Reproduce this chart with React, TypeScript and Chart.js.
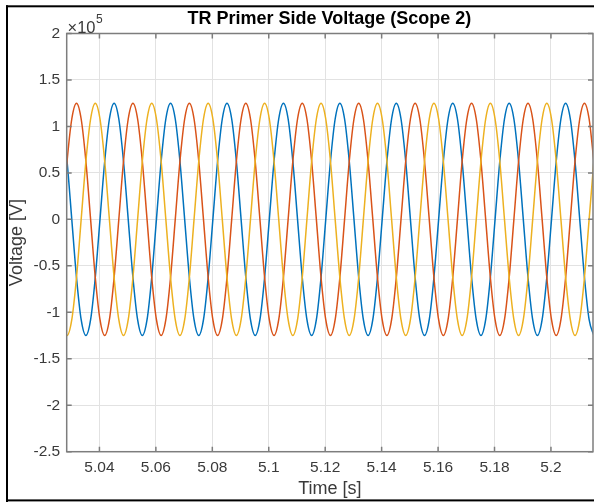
import React, { useEffect, useRef } from "react";
import { Chart, registerables } from "chart.js";

Chart.register(...registerables);

// ---- data (time in s, voltages in V) ----
const timeS = [
  5.0252, 5.02687, 5.02853, 5.0302, 5.03187, 5.03353, 5.0352, 5.03687, 5.03853,
  5.0402, 5.04187, 5.04353, 5.0452, 5.04687, 5.04853, 5.0502, 5.05187, 5.05353,
  5.0552, 5.05687, 5.05853, 5.0602, 5.06187, 5.06353, 5.0652, 5.06687, 5.06853,
  5.0702, 5.07187, 5.07353, 5.0752, 5.07687, 5.07853, 5.0802, 5.08187, 5.08353,
  5.0852, 5.08687, 5.08853, 5.0902, 5.09187, 5.09353, 5.0952, 5.09687, 5.09853,
  5.1002, 5.10187, 5.10353, 5.1052, 5.10687, 5.10853, 5.1102, 5.11187, 5.11353,
  5.1152, 5.11687, 5.11853, 5.1202, 5.12187, 5.12353, 5.1252, 5.12687, 5.12853,
  5.1302, 5.13187, 5.13353, 5.1352, 5.13687, 5.13853, 5.1402, 5.14187, 5.14353,
  5.1452, 5.14687, 5.14853, 5.1502, 5.15187, 5.15353, 5.1552, 5.15687, 5.15853,
  5.1602, 5.16187, 5.16353, 5.1652, 5.16687, 5.16853, 5.1702, 5.17187, 5.17353,
  5.1752, 5.17687, 5.17853, 5.1802, 5.18187, 5.18353, 5.1852, 5.18687, 5.18853,
  5.1902, 5.19187, 5.19353, 5.1952, 5.19687, 5.19853, 5.2002, 5.20187, 5.20353,
  5.2052, 5.20687, 5.20853, 5.2102, 5.21187, 5.21353, 5.2152,
];

const phaseBlue = [
  125000, 108000, 62500, 0, -62500, -108000, -125000, -108000, -62500, 0, 62500, 108000,
  125000, 108000, 62500, 0, -62500, -108000, -125000, -108000, -62500, 0, 62500, 108000,
  125000, 108000, 62500, 0, -62500, -108000, -125000, -108000, -62500, 0, 62500, 108000,
  125000, 108000, 62500, 0, -62500, -108000, -125000, -108000, -62500, 0, 62500, 108000,
  125000, 108000, 62500, 0, -62500, -108000, -125000, -108000, -62500, 0, 62500, 108000,
  125000, 108000, 62500, 0, -62500, -108000, -125000, -108000, -62500, 0, 62500, 108000,
  125000, 108000, 62500, 0, -62500, -108000, -125000, -108000, -62500, 0, 62500, 108000,
  125000, 108000, 62500, 0, -62500, -108000, -125000, -108000, -62500, 0, 62500, 108000,
  125000, 108000, 62500, 0, -62500, -108000, -125000, -108000, -62500, 0, 62500, 108000,
  125000, 108000, 62500, 0, -62500, -108000, -125000,
];

const phaseOrange = [
  -62500, 0, 62500, 108000, 125000, 108000, 62500, 0, -62500, -108000, -125000, -108000,
  -62500, 0, 62500, 108000, 125000, 108000, 62500, 0, -62500, -108000, -125000, -108000,
  -62500, 0, 62500, 108000, 125000, 108000, 62500, 0, -62500, -108000, -125000, -108000,
  -62500, 0, 62500, 108000, 125000, 108000, 62500, 0, -62500, -108000, -125000, -108000,
  -62500, 0, 62500, 108000, 125000, 108000, 62500, 0, -62500, -108000, -125000, -108000,
  -62500, 0, 62500, 108000, 125000, 108000, 62500, 0, -62500, -108000, -125000, -108000,
  -62500, 0, 62500, 108000, 125000, 108000, 62500, 0, -62500, -108000, -125000, -108000,
  -62500, 0, 62500, 108000, 125000, 108000, 62500, 0, -62500, -108000, -125000, -108000,
  -62500, 0, 62500, 108000, 125000, 108000, 62500, 0, -62500, -108000, -125000, -108000,
  -62500, 0, 62500, 108000, 125000, 108000, 62500,
];

const phaseYellow = [
  -62500, -108000, -125000, -108000, -62500, 0, 62500, 108000, 125000, 108000, 62500, 0,
  -62500, -108000, -125000, -108000, -62500, 0, 62500, 108000, 125000, 108000, 62500, 0,
  -62500, -108000, -125000, -108000, -62500, 0, 62500, 108000, 125000, 108000, 62500, 0,
  -62500, -108000, -125000, -108000, -62500, 0, 62500, 108000, 125000, 108000, 62500, 0,
  -62500, -108000, -125000, -108000, -62500, 0, 62500, 108000, 125000, 108000, 62500, 0,
  -62500, -108000, -125000, -108000, -62500, 0, 62500, 108000, 125000, 108000, 62500, 0,
  -62500, -108000, -125000, -108000, -62500, 0, 62500, 108000, 125000, 108000, 62500, 0,
  -62500, -108000, -125000, -108000, -62500, 0, 62500, 108000, 125000, 108000, 62500, 0,
  -62500, -108000, -125000, -108000, -62500, 0, 62500, 108000, 125000, 108000, 62500, 0,
  -62500, -108000, -125000, -108000, -62500, 0, 62500,
];

const xTickValues = [5.04, 5.06, 5.08, 5.1, 5.12, 5.14, 5.16, 5.18, 5.2];
const yTickValues = [-250000, -200000, -150000, -100000, -50000, 0, 50000, 100000, 150000, 200000];
const xRange = [5.0284, 5.2149];
const yRange = [-250000, 200000];

const chartTitle = "TR Primer Side Voltage (Scope 2)";
const xLabel = "Time [s]";
const yLabel = "Voltage [V]";
const exponentBase = "\u00d710";
const exponentPower = "5";

// ---- styling ----
const W = 594;
const H = 502;
const FONT = "'Liberation Sans', Arial, Helvetica, sans-serif";
const AXIS = "#7d7d7d";
const TEXT = "#3a3a3a";
const GRID = "#e2e2e2";
const PLOT = { left: 66.7, right: 593, top: 33.5, bottom: 451.7 };

const decor = {
  id: "matlabDecor",
  beforeDraw(chart: any) {
    const ctx = chart.ctx;
    ctx.save();
    ctx.fillStyle = "#ffffff";
    ctx.fillRect(0, 0, W, H);
    ctx.restore();
  },
  afterDraw(chart: any) {
    const ctx = chart.ctx;
    const ca = chart.chartArea;
    const xs = chart.scales.x;
    const ys = chart.scales.y;
    ctx.save();
    // axes box
    ctx.strokeStyle = AXIS;
    ctx.lineWidth = 1.5;
    ctx.strokeRect(ca.left, ca.top, ca.right - ca.left, ca.bottom - ca.top);
    // inward ticks
    const tl = 5;
    ctx.beginPath();
    xTickValues.forEach((v) => {
      const px = xs.getPixelForValue(v);
      ctx.moveTo(px, ca.bottom);
      ctx.lineTo(px, ca.bottom - tl);
      ctx.moveTo(px, ca.top);
      ctx.lineTo(px, ca.top + tl);
    });
    yTickValues.forEach((v) => {
      const py = ys.getPixelForValue(v);
      ctx.moveTo(ca.left, py);
      ctx.lineTo(ca.left + tl, py);
      ctx.moveTo(ca.right, py);
      ctx.lineTo(ca.right - tl, py);
    });
    ctx.stroke();
    // title
    ctx.fillStyle = "#000000";
    ctx.font = `bold 18px ${FONT}`;
    ctx.textAlign = "center";
    ctx.textBaseline = "alphabetic";
    ctx.fillText(chartTitle, (ca.left + ca.right) / 2 - 0.5, 24.3);
    // exponent
    ctx.fillStyle = TEXT;
    ctx.textAlign = "left";
    ctx.font = `16.5px ${FONT}`;
    ctx.fillText(exponentBase, 67.5, 32.5);
    const w = ctx.measureText(exponentBase).width;
    ctx.font = `12px ${FONT}`;
    ctx.fillText(exponentPower, 67.5 + w + 0.5, 23);
    // outer frame
    ctx.fillStyle = "#000000";
    ctx.fillRect(6, 5.3, W - 6, 2);
    ctx.fillRect(6, 5.3, 2, H - 5.3);
    ctx.fillRect(6, 499.4, W - 6, 2);
    ctx.restore();
  },
};

const toPoints = (vals: number[]) => timeS.map((t, i) => ({ x: t, y: vals[i] }));

export default function App() {
  const ref = useRef<HTMLCanvasElement | null>(null);

  useEffect(() => {
    if (!ref.current) return;
    const lineBase = {
      pointRadius: 0,
      borderWidth: 1.5,
      fill: false,
      cubicInterpolationMode: "monotone" as const,
    };
    const chart = new Chart(ref.current, {
      type: "line",
      data: {
        datasets: [
          { ...lineBase, label: "Phase A", data: toPoints(phaseBlue), borderColor: "#0072BD", order: 3 },
          { ...lineBase, label: "Phase B", data: toPoints(phaseOrange), borderColor: "#D95319", order: 2 },
          { ...lineBase, label: "Phase C", data: toPoints(phaseYellow), borderColor: "#EDB120", order: 1 },
        ],
      },
      options: {
        responsive: false,
        animation: false,
        devicePixelRatio: 1,
        events: [],
        layout: { padding: { left: 0, top: PLOT.top, right: W - PLOT.right, bottom: 0 } },
        plugins: {
          legend: { display: false },
          tooltip: { enabled: false },
          title: { display: false },
        },
        scales: {
          x: {
            type: "linear",
            min: xRange[0],
            max: xRange[1],
            afterBuildTicks: (s: any) => {
              s.ticks = xTickValues.map((v) => ({ value: v }));
            },
            afterFit: (s: any) => {
              s.height = H - PLOT.bottom;
            },
            ticks: {
              autoSkip: false,
              maxRotation: 0,
              minRotation: 0,
              padding: 6.3,
              color: TEXT,
              font: { family: FONT, size: 15.5 },
              callback: (v: any) => String(Math.round(Number(v) * 100) / 100),
            },
            grid: { color: GRID, lineWidth: 1, drawTicks: false },
            border: { display: false },
            title: {
              display: true,
              text: xLabel,
              color: TEXT,
              font: { family: FONT, size: 18 },
              padding: { top: 0, bottom: 2.4 },
            },
          },
          y: {
            type: "linear",
            min: yRange[0],
            max: yRange[1],
            afterBuildTicks: (s: any) => {
              s.ticks = yTickValues.map((v) => ({ value: v }));
            },
            afterFit: (s: any) => {
              s.width = PLOT.left;
            },
            ticks: {
              padding: 6.5,
              color: TEXT,
              font: { family: FONT, size: 15.5 },
              callback: (v: any) => String(Math.round((Number(v) / 1e5) * 100) / 100),
            },
            grid: { color: GRID, lineWidth: 1, drawTicks: false },
            border: { display: false },
            title: {
              display: true,
              text: yLabel,
              color: TEXT,
              font: { family: FONT, size: 18 },
              padding: { top: 6, bottom: 0 },
            },
          },
        },
      },
      plugins: [decor],
    } as any);
    return () => chart.destroy();
  }, []);

  return (
    <div style={{ position: "fixed", left: 0, top: 0, width: W, height: H, background: "#fff" }}>
      <canvas ref={ref} width={W} height={H} style={{ display: "block", width: W, height: H }} />
    </div>
  );
}
